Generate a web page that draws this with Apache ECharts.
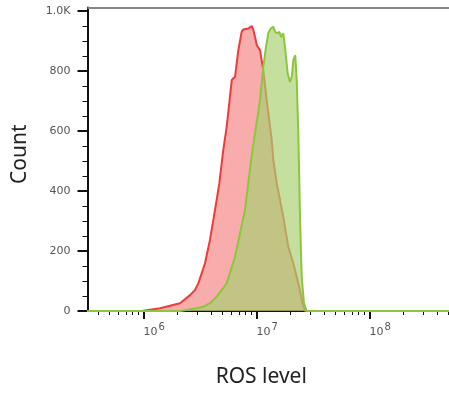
<!DOCTYPE html>
<html>
<head>
<meta charset="utf-8">
<script src="https://cdn.jsdelivr.net/npm/echarts@6/dist/echarts.min.js"></script>
<style>
  html, body { margin: 0; padding: 0; background: #fff; }
  #chart { width: 449px; height: 396px; }
</style>
</head>
<body>
<div id="chart"></div>
<script>
// x values are log10(ROS level)
const redExp = [5.5, 5.984, 5.998, 6.146, 6.323, 6.412, 6.456, 6.485, 6.544, 6.588, 6.633, 6.671, 6.706, 6.736, 6.781, 6.81, 6.839, 6.869, 6.883, 6.927, 6.958, 6.972, 6.987, 7.002, 7.031, 7.06, 7.09, 7.135, 7.149, 7.179, 7.237, 7.281, 7.326, 7.37, 7.409, 7.429, 8.71];
const redCount = [0, 0, 1, 9, 26, 53, 70, 92, 159, 237, 337, 426, 537, 614, 770, 781, 870, 931, 939, 942, 950, 937, 914, 887, 870, 803, 703, 570, 503, 426, 314, 214, 159, 92, 26, 0, 0];

const greenExp = [5.5, 6.323, 6.471, 6.529, 6.588, 6.648, 6.736, 6.81, 6.854, 6.898, 6.927, 6.958, 6.987, 7.031, 7.06, 7.084, 7.104, 7.126, 7.149, 7.164, 7.184, 7.202, 7.217, 7.237, 7.252, 7.276, 7.296, 7.312, 7.326, 7.343, 7.356, 7.37, 7.385, 7.4, 7.42, 7.444, 8.71];
const greenCount = [0, 0, 9, 14, 26, 48, 92, 181, 259, 337, 426, 520, 592, 703, 814, 881, 926, 942, 948, 931, 926, 931, 914, 926, 881, 792, 764, 781, 837, 853, 770, 592, 314, 114, 26, 0, 0];

const xMajor = [1e6, 1e7, 1e8];
const xMinor = [];
for (let p = 5; p <= 8; p++) {
  for (let k = 2; k <= 9; k++) xMinor.push(k * Math.pow(10, p));
}
const yMajor = [0, 200, 400, 600, 800, 1000];
const yMinor = [50, 100, 150, 250, 300, 350, 450, 500, 550, 650, 700, 750, 850, 900, 950];

const xMin = Math.pow(10, 5.5044);
const xMax = Math.pow(10, 8.7035);
const yMax = 1012;

const toPairs = (ex, cs) => ex.map((e, i) => [Math.pow(10, e), cs[i]]);

const tickFont = { color: '#555', fontFamily: 'DejaVu Sans', fontSize: 11 };

const chart = echarts.init(document.getElementById('chart'));
chart.setOption({
  animation: false,
  grid: { left: 87.5, right: 0, top: 7.5, bottom: 85 },
  xAxis: [
    {
      type: 'log',
      min: xMin,
      max: xMax,
      name: 'ROS level',
      nameLocation: 'middle',
      nameGap: 56,
      nameTextStyle: { fontFamily: 'Noto Sans', fontSize: 21, color: '#222', padding: [0, 14, 0, 0] },
      axisLine: { lineStyle: { color: '#111', width: 2 } },
      axisTick: { customValues: xMajor, length: 8, lineStyle: { color: '#111', width: 2 } },
      axisLabel: Object.assign({
        customValues: xMajor,
        margin: 11,
        align: 'left',
        formatter: (v) => '10{sup|' + Math.round(Math.log10(v)) + '}',
        rich: { sup: { fontSize: 10, color: '#555', fontFamily: 'DejaVu Sans', padding: [0, 0, 10, 1] } }
      }, tickFont),
      splitLine: { show: false }
    },
    {
      type: 'log',
      min: xMin,
      max: xMax,
      position: 'bottom',
      axisLine: { show: false },
      axisTick: { customValues: xMinor, length: 4, lineStyle: { color: '#111', width: 1 } },
      axisLabel: { show: false },
      splitLine: { show: false }
    }
  ],
  yAxis: [
    {
      type: 'value',
      min: 0,
      max: yMax,
      name: 'Count',
      nameLocation: 'middle',
      nameGap: 57,
      nameRotate: 90,
      nameTextStyle: { fontFamily: 'Noto Sans', fontSize: 21, color: '#222', padding: [0, 0, 0, 10] },
      axisLine: { show: true, lineStyle: { color: '#111', width: 2 } },
      axisTick: { show: true, customValues: yMajor, length: 10, lineStyle: { color: '#111', width: 2 } },
      axisLabel: Object.assign({
        customValues: yMajor,
        margin: 17,
        formatter: (v) => v === 1000 ? '1.0K' : String(v)
      }, tickFont),
      splitLine: { show: false }
    },
    {
      type: 'value',
      min: 0,
      max: yMax,
      position: 'left',
      axisLine: { show: false },
      axisTick: { show: true, customValues: yMinor, length: 5, lineStyle: { color: '#111', width: 1 } },
      axisLabel: { show: false },
      splitLine: { show: false }
    }
  ],
  series: [
    {
      type: 'line',
      data: toPairs(redExp, redCount),
      showSymbol: false,
      lineStyle: { color: '#ee3c3c', width: 2 },
      areaStyle: { color: 'rgba(240,70,70,0.45)', opacity: 1 },
      z: 2,
      // gray frame line along the top of the plot
      markLine: {
        silent: true,
        symbol: 'none',
        label: { show: false },
        lineStyle: { color: '#888', width: 2, type: 'solid' },
        data: [[{ coord: [xMin, yMax] }, { coord: [xMax, yMax] }]]
      }
    },
    {
      type: 'line',
      data: toPairs(greenExp, greenCount),
      showSymbol: false,
      lineStyle: { color: '#8cc63f', width: 2 },
      areaStyle: { color: 'rgba(168,208,112,0.68)', opacity: 1 },
      z: 3
    }
  ]
});
</script>
</body>
</html>
